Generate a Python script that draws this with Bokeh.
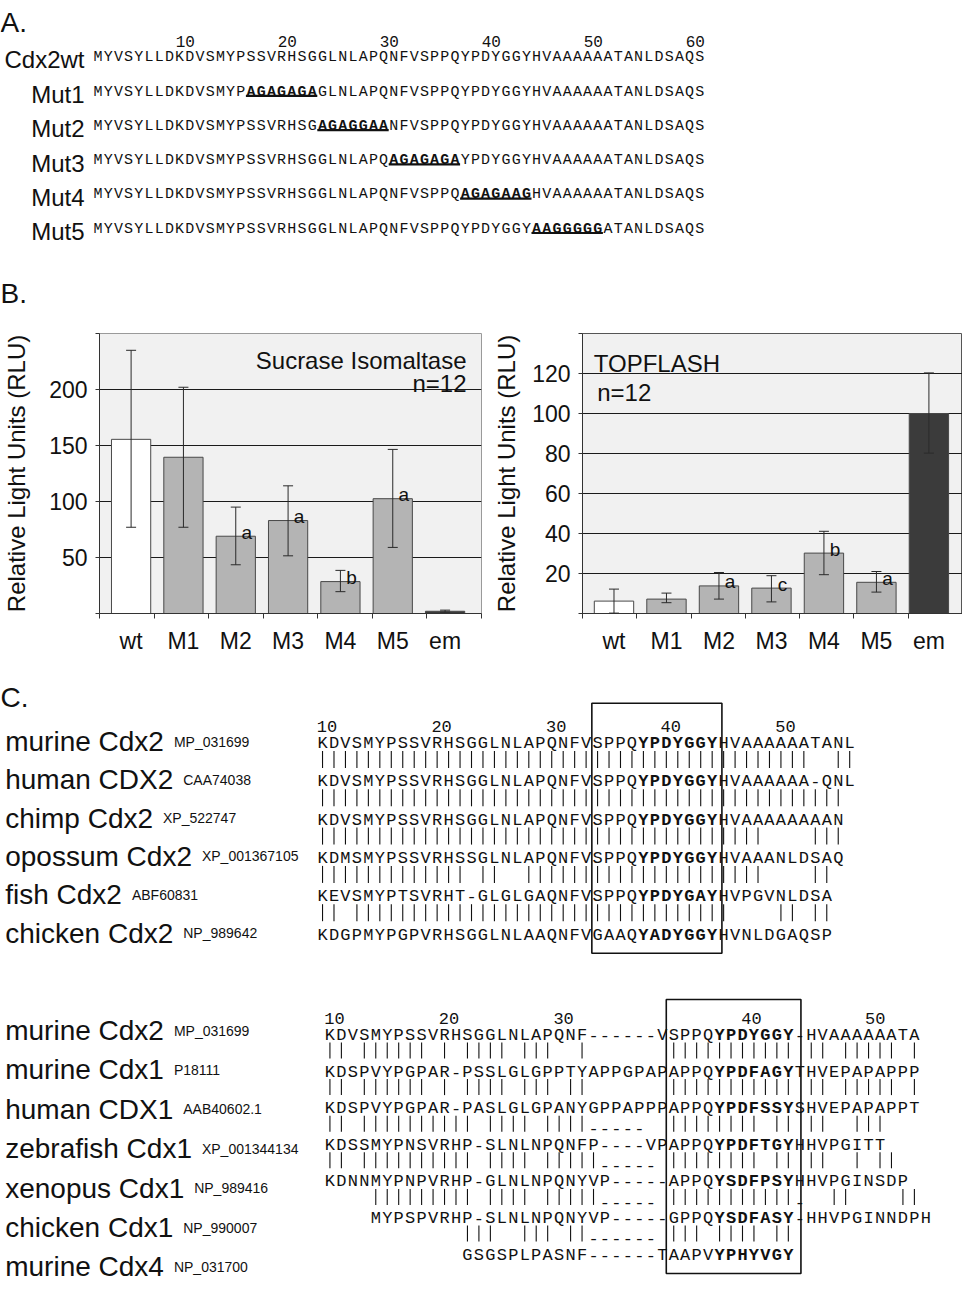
from bokeh.plotting import figure
from bokeh.models import Range1d, FixedTicker, Whisker, ColumnDataSource
from bokeh.layouts import column, row
from bokeh.embed import file_html
from bokeh.resources import INLINE
from bokeh.core.properties import value

SANS = value("Liberation Sans")
MONO = value("Liberation Mono")
INK = "#111111"

# ---------------- data: panel A ----------------
wt_name = "Cdx2wt"
wt_seq = "MYVSYLLDKDVSMYPSSVRHSGGLNLAPQNFVSPPQYPDYGGYHVAAAAAATANLDSAQS"
mut_names = ["Mut1", "Mut2", "Mut3", "Mut4", "Mut5"]
mut_cores = ["AGAGAGA", "AGAGGAA", "AGAGAGA", "AGAGAAG", "AAGGGGG"]
mut_starts = [15, 22, 29, 36, 43]
a_ruler = [10, 20, 30, 40, 50, 60]

# ---------------- data: panel B ----------------
b_categories = ["wt", "M1", "M2", "M3", "M4", "M5", "em"]
si_values = [155.5, 139.5, 69, 83, 28.5, 102.5, 2]
si_lower = [77, 77, 43.5, 51.5, 19.5, 59, 1.2]
si_upper = [235, 202, 95, 114, 38.5, 146.5, 3]
si_letters = ["", "", "a", "a", "b", "a", ""]
tf_values = [6.2, 7.2, 13.8, 12.7, 30.2, 15.6, 100]
tf_lower = [0.2, 5.4, 7.2, 5.8, 19.4, 10.7, 80.2]
tf_upper = [12.2, 10.2, 20.5, 18.9, 41.1, 21.0, 120.3]
tf_letters = ["", "", "a", "c", "b", "a", ""]

# ---------------- data: panel C, block 1 ----------------
c1_names = ["murine Cdx2", "human CDX2", "chimp Cdx2", "opossum Cdx2", "fish Cdx2", "chicken Cdx2"]
c1_acc = ["MP_031699", "CAA74038", "XP_522747", "XP_001367105", "ABF60831", "NP_989642"]
c1_starts = [0, 0, 0, 0, 0, 0]
c1_seqs = [
    "KDVSMYPSSVRHSGGLNLAPQNFVSPPQYPDYGGYHVAAAAAATANL",
    "KDVSMYPSSVRHSGGLNLAPQNFVSPPQYPDYGGYHVAAAAAA-QNL",
    "KDVSMYPSSVRHSGGLNLAPQNFVSPPQYPDYGGYHVAAAAAAAAN",
    "KDMSMYPSSVRHSSGLNLAPQNFVSPPQYPDYGGYHVAAANLDSAQ",
    "KEVSMYPTSVRHT-GLGLGAQNFVSPPQYPDYGAYHVPGVNLDSA",
    "KDGPMYPGPVRHSGGLNLAAQNFVGAAQYADYGGYHVNLDGAQSP",
]
c1_match = [
    "|" * 43 + "  " + "||",
    "|" * 46,
    "|" * 39 + "    " + "|||",
    "|" * 13 + " " + "||" + "  " + "|" * 21 + "    " + "||",
    "||" + " " + "|" * 33 + "    " + "||" + " " + "||",
]
c1_ruler = ["10", "20", "30", "40", "50"]
c1_bold = (28, 35)

# ---------------- data: panel C, block 2 ----------------
c2_names = ["murine Cdx2", "murine Cdx1", "human CDX1", "zebrafish Cdx1",
            "xenopus Cdx1", "chicken Cdx1", "murine Cdx4"]
c2_acc = ["MP_031699", "P18111", "AAB40602.1", "XP_001344134", "NP_989416", "NP_990007", "NP_031700"]
c2_starts = [0, 0, 0, 0, 0, 4, 12]
c2_seqs = [
    "KDVSMYPSSVRHSGGLNLAPQNF------VSPPQYPDYGGY-HVAAAAAATA",
    "KDSPVYPGPAR-PSSLGLGPPTYAPPGPAPAPPQYPDFAGYTHVEPAPAPPP",
    "KDSPVYPGPAR-PASLGLGPANYGPPAPPPAPPQYPDFSSYSHVEPAPAPPT",
    "KDSSMYPNSVRHP-SLNLNPQNFP----VPAPPQYPDFTGYHHVPGITT",
    "KDNNMYPNPVRHP-GLNLNPQNYVP-----APPQYSDFPSYHHVPGINSDP",
    "MYPSPVRHP-SLNLNPQNYVP-----GPPQYSDFASY-HHVPGINNDPH",
    "GSGSPLPASNF------TAAPVYPHYVGY",
]
c2_match = [
    "|| |||||| | |||| |||  |" + " " * 7 + "|" * 11 + " || ||||| |",
    "|| |||||| | |||| ||| ||" + " " * 7 + "|" * 11 + " || ||||| |",
    "|| |||||||||| |||| ||||" + "-----" + "  " + "|" * 8 + " || ||  |||",
    "|| |||||||||| |||| |||||" + "-----" + " " + "|" * 8 + " || ||  | ||",
    "    ||||||||| |||| |||||" + "-----" + " " + "|" * 11 + "-" + "  ||    ||",
    " " * 12 + "|||  ||| ||" + "------" + " ||| |||| ||",
]
c2_ruler = ["10", "20", "30", "40", "50"]
c2_bold = (34, 41)

# ---------------- helpers ----------------
AW = {'a': .556, 'b': .556, 'c': .5, 'd': .556, 'e': .556, 'f': .278, 'g': .556, 'h': .556,
      'i': .222, 'k': .5, 'l': .222, 'm': .833, 'n': .556, 'o': .556, 'p': .556, 'r': .333,
      's': .5, 't': .278, 'u': .556, 'x': .5, 'z': .5, 'C': .722, 'D': .722, 'X': .667, ' ': .278}


def text_width(s, px):
    return sum(AW.get(c, 0.556) for c in s) * px


def blank_fig(width, height, xr, yr):
    p = figure(width=width, height=height, x_range=Range1d(*xr), y_range=Range1d(*yr),
               output_backend="svg", toolbar_location=None,
               x_axis_location=None, y_axis_location=None,
               min_border_left=0, min_border_right=0, min_border_top=0, min_border_bottom=0)
    p.grid.visible = False
    p.outline_line_color = None
    p.background_fill_color = "white"
    p.border_fill_color = "white"
    return p


def sans(fig, xs, ys, texts, size, align="left", color=INK, style="normal"):
    fig.text(x=xs, y=ys, text=texts, text_font=SANS, text_font_size=size,
             text_align=align, text_baseline="alphabetic", text_color=color,
             text_font_style=style)


def mono_chars(fig, xs, ys, ts, size, bold=False):
    if not ts:
        return
    fig.text(x=xs, y=ys, text=ts, text_font=MONO, text_font_size=size,
             text_font_style="bold" if bold else "normal", text_align="center",
             text_baseline="alphabetic", text_color=INK)


def seq_rows(fig, x0, pitch, bases, starts, seqs, bold_ranges, size):
    nx, ny, nt, bx, by, bt = [], [], [], [], [], []
    for base, st, s, (lo, hi) in zip(bases, starts, seqs, bold_ranges):
        for j, ch in enumerate(s):
            i = st + j
            xc = x0 + (i + 0.5) * pitch
            if lo <= i < hi:
                bx.append(xc); by.append(base); bt.append(ch)
            else:
                nx.append(xc); ny.append(base); nt.append(ch)
    mono_chars(fig, nx, ny, nt, size)
    mono_chars(fig, bx, by, bt, size, bold=True)


def match_rows(fig, x0, pitch, bases, lines, top_off, bot_off, size_px):
    sx, sy0, sy1, dx, dy, dt = [], [], [], [], [], []
    for base, line in zip(bases, lines):
        for j, ch in enumerate(line):
            xc = x0 + (j + 0.5) * pitch
            if ch == "|":
                sx.append(xc); sy0.append(base + top_off); sy1.append(base + bot_off)
            elif ch == "-":
                dx.append(xc); dy.append(base + (top_off + bot_off) / 2 + 0.3 * size_px); dt.append("-")
    fig.segment(x0=sx, y0=sy0, x1=sx, y1=sy1, line_color=INK, line_width=1.1)
    mono_chars(fig, dx, dy, dt, "%dpx" % size_px)


# ---------------- panel A figure ----------------
W = 962
figA = blank_fig(W, 310, (2, 2 + W), (313, 3))
sans(figA, [2], [25], ["A."], "28px")
sans(figA, [2], [296], ["B."], "28px")

A_SIZE = "15px"
A_PITCH = 10.2
A_X0 = 94.4
A_WT_BASE = 59.5
A_MUT_BASE = 94.5
A_STEP = 34.3

figA.text(x=[A_X0 + n * A_PITCH for n in a_ruler], y=[44] * len(a_ruler),
          text=[str(n) for n in a_ruler], text_font=MONO, text_font_size="16px",
          text_align="right", text_baseline="alphabetic", text_color=INK)

mut_seqs = [wt_seq[:s] + core + wt_seq[s + len(core):] for s, core in zip(mut_starts, mut_cores)]
a_bases = [A_WT_BASE] + [A_MUT_BASE + k * A_STEP for k in range(len(mut_names))]
a_seqs = [wt_seq] + mut_seqs
a_bold = [(-1, -1)] + [(s, s + len(c)) for s, c in zip(mut_starts, mut_cores)]
seq_rows(figA, A_X0, A_PITCH, a_bases, [0] * len(a_seqs), a_seqs, a_bold, A_SIZE)

sans(figA, [86] * len(a_bases), [b + 2.5 for b in a_bases], [wt_name] + mut_names, "24px", align="right")

ul_y = [b + 3.8 for b in a_bases[1:]]
figA.segment(x0=[A_X0 + s * A_PITCH for s, c in zip(mut_starts, mut_cores)], y0=ul_y,
             x1=[A_X0 + (s + len(c)) * A_PITCH for s, c in zip(mut_starts, mut_cores)], y1=ul_y,
             line_color=INK, line_width=2.2)


# ---------------- panel B figures ----------------
def bar_fig(width, mb_left, mb_right, mb_top, mb_bottom, xr, yr, yticks, gridticks,
            values, lower, upper, letters, outline, label_standoff):
    p = figure(width=width, height=350, x_range=Range1d(*xr), y_range=Range1d(*yr),
               output_backend="svg", toolbar_location=None,
               min_border_left=mb_left, min_border_right=mb_right,
               min_border_top=mb_top, min_border_bottom=mb_bottom)
    p.background_fill_color = "#f1f1f1"
    p.border_fill_color = "white"
    p.outline_line_color = outline
    p.outline_line_width = 1

    xs = list(range(len(b_categories)))
    fills = ["#ffffff" if c == "wt" else ("#3b3b3b" if c == "em" else "#b4b4b4") for c in b_categories]
    src = ColumnDataSource(dict(x=xs, top=values, lower=lower, upper=upper, fill=fills, letter=letters))
    p.vbar(x="x", top="top", width=0.75, bottom=0, source=src, fill_color="fill",
           line_color="#484848", line_width=1)
    wk = Whisker(source=src, base="x", upper="upper", lower="lower",
                 line_color="#2a2a2a", line_width=1, level="overlay")
    wk.upper_head.size = 10
    wk.lower_head.size = 10
    wk.upper_head.line_color = "#2a2a2a"
    wk.lower_head.line_color = "#2a2a2a"
    p.add_layout(wk)
    p.text(x="x", y="top", text="letter", source=src, x_offset=11, y_offset=-4,
           text_font=SANS, text_font_size="19px", text_align="center",
           text_baseline="alphabetic", text_color=INK)

    lo, hi = xr
    bounds = [lo + k * (hi - lo) / len(b_categories) for k in range(len(b_categories) + 1)]
    xa = p.xaxis[0]
    xa.ticker = FixedTicker(ticks=xs, minor_ticks=bounds)
    xa.major_label_overrides = {i: c for i, c in enumerate(b_categories)}
    xa.major_tick_line_color = None
    xa.major_tick_out = 0
    xa.major_tick_in = 0
    xa.minor_tick_out = 5
    xa.minor_tick_in = 0
    xa.minor_tick_line_color = "#333333"
    xa.axis_line_color = "#333333"
    xa.major_label_standoff = 9
    xa.major_label_text_font = "Liberation Sans"
    xa.major_label_text_font_size = "23px"
    xa.major_label_text_color = INK

    ya = p.yaxis[0]
    ya.ticker = FixedTicker(ticks=yticks)
    ya.major_label_overrides = {yticks[0]: "", yticks[-1]: ""}
    ya.minor_tick_line_color = None
    ya.major_tick_out = 4
    ya.major_tick_in = 0
    ya.major_tick_line_color = "#333333"
    ya.axis_line_color = "#333333"
    ya.major_label_standoff = 8
    ya.major_label_text_font = "Liberation Sans"
    ya.major_label_text_font_size = "23px"
    ya.major_label_text_color = INK
    ya.axis_label = "Relative Light Units (RLU)"
    ya.axis_label_text_font = "Liberation Sans"
    ya.axis_label_text_font_size = "24px"
    ya.axis_label_text_font_style = "normal"
    ya.axis_label_text_color = INK
    ya.axis_label_standoff = label_standoff

    p.xgrid.visible = False
    p.ygrid.ticker = FixedTicker(ticks=gridticks)
    p.ygrid.grid_line_color = "#1a1a1a"
    p.ygrid.grid_line_width = 1.2
    return p


figB1 = bar_fig(490, 95, 9, 23, 46, (-0.604, 6.696), (0, 250),
                [0, 50, 100, 150, 200, 250], [50, 100, 150, 200],
                si_values, si_lower, si_upper, si_letters, "#9a9a9a", 16)
sans(figB1, [6.41], [226], ["Sucrase Isomaltase"], "24px", align="right")
sans(figB1, [6.41], [205.3], ["n=12"], "24px", align="right")

figB2 = bar_fig(472, 89, 0, 19, 47, (-0.6, 6.64), (0, 140),
                [0, 20, 40, 60, 80, 100, 120, 140], [20, 40, 60, 80, 100, 120],
                tf_values, tf_lower, tf_upper, tf_letters, "#555555", 9)
sans(figB2, [-0.386], [125.1], ["TOPFLASH"], "24px")
sans(figB2, [-0.32], [110.3], ["n=12"], "24px")

# ---------------- panel C figure ----------------
figC = blank_fig(W, 619, (2, 2 + W), (1293, 674))
sans(figC, [2], [711], ["C."], "28px")

C_SIZE = "17px"
C_SIZE_PX = 17
C_PITCH = 11.46
LABEL_X = 6.7


def block(x0, base0, step, lab_base0, lab_step, names, accs, starts, seqs, match, ruler,
          ruler_idx, ruler_base, bold, box, pipe_off):
    bases = [base0 + k * step for k in range(len(seqs))]
    figC.text(x=[x0 + i * C_PITCH for i in ruler_idx], y=[ruler_base] * len(ruler),
              text=ruler, text_font=MONO, text_font_size=C_SIZE, text_align="left",
              text_baseline="alphabetic", text_color=INK)
    seq_rows(figC, x0, C_PITCH, bases, starts, seqs, [bold] * len(seqs), C_SIZE)
    match_rows(figC, x0, C_PITCH, bases[:-1], match, pipe_off[0], pipe_off[1], C_SIZE_PX)
    lab_bases = [lab_base0 + k * lab_step for k in range(len(names))]
    sans(figC, [LABEL_X] * len(names), lab_bases, names, "28px")
    sans(figC, [LABEL_X + text_width(n, 28) + 10 for n in names], lab_bases, accs, "14px")
    bl, br, bt, bb = box
    figC.quad(left=[x0 + bl * C_PITCH], right=[x0 + br * C_PITCH], top=[bt], bottom=[bb],
              fill_color=None, line_color=INK, line_width=1.6)


block(318.3, 757, 38.3, 755, 38.3, c1_names, c1_acc, c1_starts, c1_seqs, c1_match,
      c1_ruler, [0, 10, 20, 30, 40], 740, c1_bold, (24, 35.35, 716.7, 966.7), (7.5, 24.5))
block(325.7, 1049, 36.6, 1044, 39.4, c2_names, c2_acc, c2_starts, c2_seqs, c2_match,
      c2_ruler, [0, 10, 20, 36.4, 47.2], 1032, c2_bold, (29.85, 41.6, 1013, 1287), (7, 23))

layout = column(figA, row(figB1, figB2), figC)
open("out.html", "w").write(file_html(layout, INLINE))
